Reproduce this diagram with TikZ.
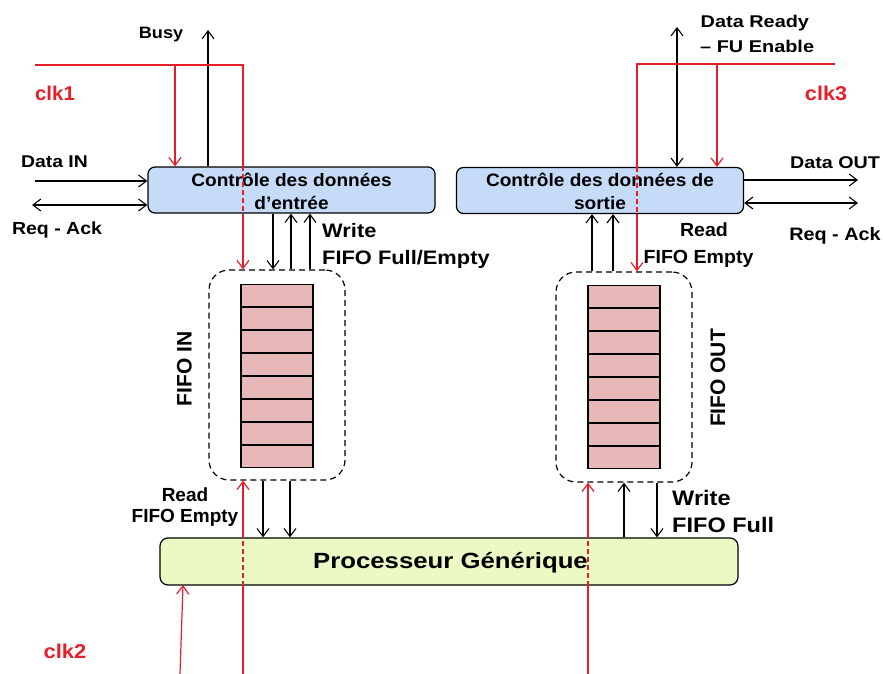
\documentclass[tikz,border=0pt]{standalone}
\usepackage{fontspec}
\setmainfont{Liberation Sans}
\usetikzlibrary{arrows.meta,calc}
\definecolor{clkred}{RGB}{230,30,40}
\definecolor{ctrlblue}{RGB}{198,219,247}
\definecolor{procgreen}{RGB}{235,250,197}
\definecolor{fifopink}{RGB}{230,184,183}
\begin{document}
\begin{tikzpicture}[x=1pt,y=-1pt,
  tip/.tip={Straight Barb[length=8pt,width=12pt]},
  sig/.style={draw=black,line width=1.1pt,-tip},
  dsig/.style={draw=black,line width=1.1pt,tip-tip},
  clk/.style={draw=clkred,line width=1.2pt},
  clkarrow/.style={draw=clkred,line width=1.2pt,-tip},
  clkdash/.style={draw=clkred,line width=1.2pt,dash pattern=on 5pt off 3pt},
  lb/.style n args={3}{font=\bfseries\fontsize{#1}{#1}\selectfont,xscale=#2,
    transform shape,inner sep=0pt,anchor=#3},
  clb/.style n args={3}{lb={#1}{#2}{#3},text=clkred},
  boxtext/.style={font=\bfseries\fontsize{18}{23}\selectfont,xscale=1.06,
    transform shape,inner sep=0pt,align=center},
  ctrlbox/.style={draw,line width=1.2pt,rounded corners=7pt,fill=ctrlblue,
    minimum width=287pt,minimum height=46pt,inner sep=0pt},
  procbox/.style={draw,line width=1.2pt,rounded corners=8pt,fill=procgreen,
    minimum width=578pt,minimum height=47pt,inner sep=0pt},
  fifobox/.style={draw,line width=1.2pt,dash pattern=on 6pt off 4pt,rounded corners=20pt,
    minimum width=136pt,minimum height=210pt,inner sep=0pt},
  stackbox/.style={draw,line width=1.2pt,fill=fifopink,minimum width=72pt,
    minimum height=183pt,inner sep=0pt}
]
\useasboundingbox (0,0) rectangle (883,674);

% boxes
\node[ctrlbox] (cin) at (291.5,190) {};
\node[boxtext] (cintxt) at (291.5,191) {Contrôle des données\\d’entrée};
\node[ctrlbox] (cout) at (600,190.5) {};
\node[boxtext] (couttxt) at (600,191) {Contrôle des données de\\sortie};
\node[procbox] (proc) at (449,561.5) {};
\node[lb={22}{1.17}{base}] (proctxt) at (450.5,568.5) {Processeur Générique};
\node[fifobox] (fin) at (277,375) {};
\node[fifobox] (fout) at (624,377) {};
\node[stackbox] (sin) at (277,376) {};
\node[stackbox] (sout) at (624,377) {};
\foreach \s in {sin,sout}{
  \foreach \i in {1,...,7}{
    \draw[line width=1.2pt] ($(\s.north west)!\i/8!(\s.south west)$) -- ($(\s.north east)!\i/8!(\s.south east)$);
  }
}

% labels
\node[lb={16.5}{1.1}{base}] (tbusy) at (161,38.5) {Busy};
\node[clb={20}{1.02}{base}] (tclk1) at (55,101) {clk1};
\node[lb={17}{1.14}{base}] (tdin) at (54.5,167.3) {Data IN};
\node[lb={17.5}{1.115}{base}] (treqin) at (57,234.3) {Req - Ack};
\node[lb={19.5}{1.12}{base west}] (twrin) at (322,237.3) {Write};
\node[lb={19.5}{1.12}{base west}] (tffin) at (322,264) {FIFO Full/Empty};
\node[lb={19}{1}{base}] (trdin) at (185,501) {Read};
\node[lb={19}{1}{base}] (tfein) at (185,522.7) {FIFO Empty};
\node[lb={21}{1}{base},rotate=90] (tfin) at (191.5,369) {FIFO IN};
\node[lb={21}{1}{base},rotate=90] (tfout) at (725,378) {FIFO OUT};
\node[lb={17}{1.17}{base west}] (tdr) at (700.5,27.3) {Data Ready};
\node[lb={17}{1.17}{base west}] (tfu) at (700,52.3) {– FU Enable};
\node[clb={20}{1.08}{base}] (tclk3) at (826,101) {clk3};
\node[lb={17}{1.16}{base}] (tdout) at (835,168) {Data OUT};
\node[lb={18}{1.1}{base}] (treqout) at (835,240) {Req - Ack};
\node[lb={19}{1.03}{base}] (trdout) at (704,236) {Read};
\node[lb={19}{1.03}{base}] (tfeout) at (698.5,263.3) {FIFO Empty};
\node[lb={21}{1.12}{base west}] (twrout) at (672,505) {Write};
\node[lb={21}{1.12}{base west}] (tffout) at (672,532) {FIFO Full};
\node[clb={20}{1.1}{base}] (tclk2) at (65,658) {clk2};

% free ends
\coordinate (busyend) at (208,30);
\coordinate (dinstart) at (35,181);
\coordinate (reqinstart) at (32,205);
\coordinate (c1s) at (35,65);
\coordinate (c1a) at (175,65);
\coordinate (c1b) at (243,65);
\coordinate (drend) at (677,27);
\coordinate (c3s) at (835,64);
\coordinate (c3a) at (717,64);
\coordinate (c3b) at (637,64);
\coordinate (doutend) at (858,180);
\coordinate (reqoutend) at (858,203);
\coordinate (c2s) at (180,674);
\coordinate (c2e) at (183,585);
\coordinate (rin) at (243,674);
\coordinate (rout) at (588,674);

% input control connectors
\draw[sig] (cin.north -| busyend) -- (busyend);
\draw[sig] (dinstart) -- (dinstart -| cin.west);
\draw[dsig] (reqinstart) -- (reqinstart -| cin.west);
\draw[sig] ([xshift=-4pt]fin.north |- cin.south) -- ([xshift=-4pt]fin.north);
\draw[sig] ([xshift=14pt]fin.north) -- ([xshift=14pt]fin.north |- cin.south);
\draw[sig] ([xshift=33pt]fin.north) -- ([xshift=33pt]fin.north |- cin.south);

% clk1
\draw[clk] (c1s) -- (c1b) -- (c1b |- cin.north);
\draw[clkdash] (c1b |- cin.north) -- (c1b |- cin.south);
\draw[clkarrow] (c1b |- cin.south) -- (c1b |- fin.north);
\draw[clkarrow] (c1a) -- (c1a |- cin.north);

% FIFO IN to processor
\draw[sig] ([xshift=-14pt]fin.south) -- ([xshift=-14pt]fin.south |- proc.north);
\draw[sig] ([xshift=13pt]fin.south) -- ([xshift=13pt]fin.south |- proc.north);
\draw[clk] (rin) -- (rin |- proc.south);
\draw[clkdash] (rin |- proc.south) -- (rin |- proc.north);
\draw[clkarrow] (rin |- proc.north) -- (rin |- fin.south);

% clk2
\draw[clkarrow] (c2s) -- (c2e);

% output control connectors
\draw[dsig] (cout.north -| drend) -- (drend);
\draw[sig] (doutend -| cout.east) -- (doutend);
\draw[dsig] (reqoutend -| cout.east) -- (reqoutend);
\draw[sig] ([xshift=-32pt]fout.north) -- ([xshift=-32pt]fout.north |- cout.south);
\draw[sig] ([xshift=-11pt]fout.north) -- ([xshift=-11pt]fout.north |- cout.south);

% clk3
\draw[clk] (c3s) -- (c3b) -- (c3b |- cout.north);
\draw[clkdash] (c3b |- cout.north) -- (c3b |- cout.south);
\draw[clkarrow] (c3b |- cout.south) -- (c3b |- fout.north);
\draw[clkarrow] (c3a) -- (c3a |- cout.north);

% processor to FIFO OUT
\draw[sig] (fout.south |- proc.north) -- (fout.south);
\draw[sig] ([xshift=33pt]fout.south) -- ([xshift=33pt]fout.south |- proc.north);
\draw[clk] (rout) -- (rout |- proc.south);
\draw[clkdash] (rout |- proc.south) -- (rout |- proc.north);
\draw[clkarrow] (rout |- proc.north) -- (rout |- fout.south);
\end{tikzpicture}
\end{document}
